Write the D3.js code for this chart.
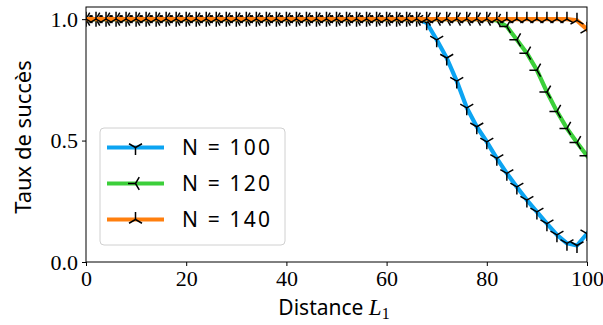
<!DOCTYPE html>
<html><head><meta charset="utf-8">
<script src="https://cdn.jsdelivr.net/npm/d3@7"></script>
<style>body{margin:0;background:#fff}svg{display:block}</style>
</head><body>
<svg id="chart" width="603" height="325"></svg>
<script>
const distances = [0,2,4,6,8,10,12,14,16,18,20,22,24,26,28,30,32,34,36,38,40,42,44,46,48,50,52,54,56,58,60,62,64,66,68,70,72,74,76,78,80,82,84,86,88,90,92,94,96,98,100];
const n100 = [1,1,1,1,1,1,1,1,1,1,1,1,1,1,1,1,1,1,1,1,1,1,1,1,1,1,1,1,1,1,1,1,1,1,
  0.985,0.915,0.84,0.745,0.635,0.557,0.495,0.427,0.365,0.309,0.255,0.206,0.158,0.112,0.077,0.068,0.117];
const n120 = [1,1,1,1,1,1,1,1,1,1,1,1,1,1,1,1,1,1,1,1,1,1,1,1,1,1,1,1,1,1,1,1,1,1,1,1,1,1,1,1,1,
  0.995,0.97,0.915,0.86,0.79,0.70,0.62,0.55,0.492,0.437];
const n140 = [1,1,1,1,1,1,1,1,1,1,1,1,1,1,1,1,1,1,1,1,1,1,1,1,1,1,1,1,1,1,1,1,1,1,1,1,1,1,1,1,1,1,1,1,1,1,1,1,1,0.995,0.958];
const seriesLabels = ["N = 100","N = 120","N = 140"];
const seriesColors = ["#0ca4f2","#3ccf3a","#ff7f0e"];
const seriesMarkers = ["down","left","up"];
const xTicks = [0,20,40,60,80,100];
const yTicks = [0.0,0.5,1.0];

const svg = d3.select("#chart");
const L = 86, R = 587, T = 7, B = 262;
const x = d3.scaleLinear().domain([0,100]).range([L,R]);
const y = d3.scaleLinear().domain([0,1.05]).range([B,T]);

const armLen = 7.5;
function markerPath(kind){
  const a = armLen, c = 0.866*a, h = 0.5*a;
  if(kind==="down") return `M0,0L0,${a}M0,0L${-c},${-h}M0,0L${c},${-h}`;
  if(kind==="up") return `M0,0L0,${-a}M0,0L${-c},${h}M0,0L${c},${h}`;
  return `M0,0L${-a},0M0,0L${h},${-c}M0,0L${h},${c}`;
}

const data = [n100,n120,n140];
svg.append("defs").append("clipPath").attr("id","clip")
  .append("rect").attr("x",L).attr("y",T).attr("width",R-L).attr("height",B-T);

const plot = svg.append("g").attr("clip-path","url(#clip)");
const line = d3.line().x((d,i)=>x(distances[i])).y(d=>y(d));
data.forEach((vals,k)=>{
  plot.append("path").datum(vals).attr("d",line)
    .attr("fill","none").attr("stroke",seriesColors[k]).attr("stroke-width",4.2)
    .attr("stroke-linejoin","round").attr("stroke-linecap","square");
  plot.selectAll(null).data(vals).enter().append("path")
    .attr("transform",(d,i)=>`translate(${x(distances[i])},${y(d)})`)
    .attr("d",markerPath(seriesMarkers[k]))
    .attr("fill","none").attr("stroke","#000").attr("stroke-width",1.5);
});

// axes
const xAxis = svg.append("g").attr("transform",`translate(0,${B})`)
  .call(d3.axisBottom(x).tickValues(xTicks).tickSize(4).tickPadding(3).tickFormat(d3.format("d")));
const yAxis = svg.append("g").attr("transform",`translate(${L},0)`)
  .call(d3.axisLeft(y).tickValues(yTicks).tickSize(4).tickPadding(4).tickFormat(d3.format(".1f")));
[xAxis,yAxis].forEach(g=>{
  g.select(".domain").remove();
  g.selectAll(".tick line").attr("stroke","#000").attr("stroke-width",1);
  g.selectAll(".tick text").attr("font-family","'Liberation Serif', serif").attr("font-size",22).attr("fill","#000");
});
xAxis.selectAll(".tick text").attr("dy","0.78em");
svg.append("rect").attr("x",L).attr("y",T).attr("width",R-L).attr("height",B-T)
  .attr("fill","none").attr("stroke","#000").attr("stroke-width",1);

// axis labels
const xl = svg.append("text").attr("x",334).attr("y",315).attr("text-anchor","middle")
  .attr("font-family","'Noto Sans', sans-serif").attr("font-size",21).attr("fill","#000");
xl.append("tspan").text("Distance ");
xl.append("tspan").attr("font-family","'Liberation Serif', serif").attr("font-style","italic").attr("font-size",23).text("L");
xl.append("tspan").attr("font-family","'Liberation Serif', serif").attr("font-size",16).attr("dy",4).text("1");

svg.append("text").attr("transform","translate(31,137) rotate(-90)").attr("text-anchor","middle")
  .attr("font-family","'Noto Sans', sans-serif").attr("font-size",22).attr("fill","#000").text("Taux de succès");

// legend
const lg = svg.append("g");
lg.append("rect").attr("x",100).attr("y",128).attr("width",185).attr("height",117).attr("rx",4)
  .attr("fill","#fff").attr("fill-opacity",0.8).attr("stroke","#d0d0d0").attr("stroke-width",1);
const rowY = [147.5,183.5,219.5];
seriesLabels.forEach((lab,k)=>{
  lg.append("line").attr("x1",107).attr("x2",164).attr("y1",rowY[k]).attr("y2",rowY[k])
    .attr("stroke",seriesColors[k]).attr("stroke-width",4.2);
  lg.append("path").attr("transform",`translate(135.5,${rowY[k]})`).attr("d",markerPath(seriesMarkers[k]))
    .attr("fill","none").attr("stroke","#000").attr("stroke-width",1.5);
  lg.append("text").attr("x",182).attr("y",rowY[k]+7.5).attr("textLength",88).attr("lengthAdjust","spacing")
    .attr("font-family","'Noto Sans', sans-serif").attr("font-size",21).attr("fill","#000").text(lab);
});
</script>
</body></html>
